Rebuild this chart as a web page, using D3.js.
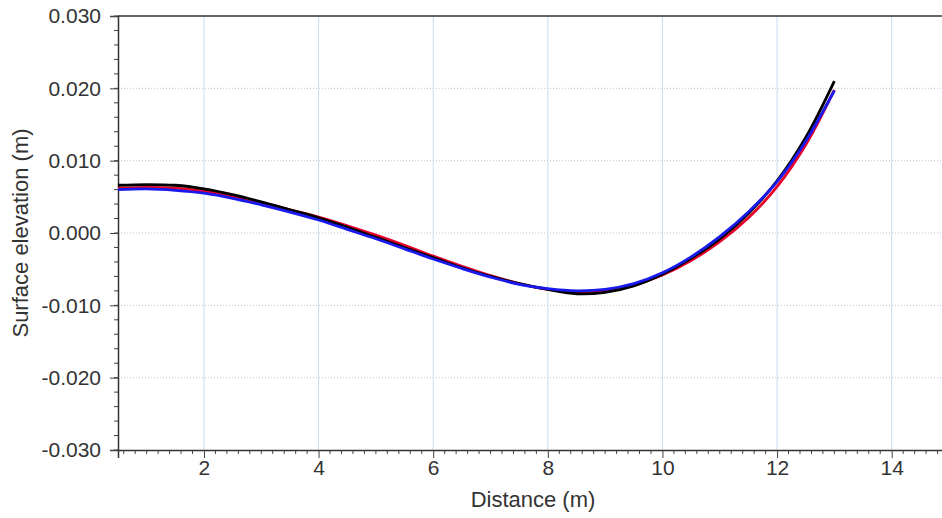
<!DOCTYPE html>
<html>
<head>
<meta charset="utf-8">
<script src="https://cdn.jsdelivr.net/npm/d3@7"></script>
<style>
  body { margin: 0; background: #fff; }
  svg { display: block; }
  .tick text { font-family: "Liberation Sans", Arial, sans-serif; font-size: 21px; fill: #333; }
  .title { font-family: "Liberation Sans", Arial, sans-serif; font-size: 22px; fill: #333; }
</style>
</head>
<body>
<svg id="chart" width="942" height="518"></svg>
<script>
// distance stations (m)
var distance = [0.5, 1, 1.5, 2, 2.5, 3, 3.5, 4, 4.5, 5, 5.5, 6, 6.5, 7, 7.5, 8, 8.5, 9, 9.5, 10, 10.5, 11, 11.5, 12, 12.5, 13];

// surface elevation (m), one array per run
var blackRun = [0.0066, 0.0067, 0.0066, 0.0061, 0.0053, 0.0043, 0.0032, 0.0021, 0.0008, -0.0006, -0.0020, -0.0034, -0.0048, -0.0060, -0.0070, -0.0078, -0.0084, -0.0082, -0.0073, -0.0057, -0.0035, -0.0008, 0.0027, 0.0072, 0.0132, 0.0210];
var redRun   = [0.0062, 0.0063, 0.0062, 0.0058, 0.0051, 0.0042, 0.0032, 0.0022, 0.0010, -0.0003, -0.0017, -0.0032, -0.0046, -0.0059, -0.0070, -0.0078, -0.0082, -0.0080, -0.0072, -0.0058, -0.0038, -0.0012, 0.0021, 0.0064, 0.0122, 0.0198];
var blueRun  = [0.0060, 0.0061, 0.0059, 0.0055, 0.0048, 0.0039, 0.0029, 0.0018, 0.0005, -0.0008, -0.0022, -0.0036, -0.0049, -0.0061, -0.0071, -0.0077, -0.0080, -0.0078, -0.0070, -0.0055, -0.0033, -0.0005, 0.0029, 0.0071, 0.0127, 0.0197];

var xTicks = [2, 4, 6, 8, 10, 12, 14];
var yTicks = [-0.03, -0.02, -0.01, 0, 0.01, 0.02, 0.03];

var series = [
  { name: "red", values: redRun, color: "#e8002a" },
  { name: "black", values: blackRun, color: "#000000" },
  { name: "blue", values: blueRun, color: "#1a1aee" }
];

var svg = d3.select("#chart");
var margin = { left: 118, top: 16, right: -7, bottom: 68 };
var W = 942, H = 518;

var x = d3.scaleLinear().domain([0.5, 15]).range([margin.left, W - margin.right]);
var y = d3.scaleLinear().domain([-0.03, 0.03]).range([H - margin.bottom, margin.top]);

// grid
var grid = svg.append("g");
grid.selectAll(".vg").data(xTicks).enter().append("line")
  .attr("x1", function(d) { return x(d); }).attr("x2", function(d) { return x(d); })
  .attr("y1", y(0.03)).attr("y2", y(-0.03))
  .attr("stroke", "#c9dcef").attr("stroke-width", 1);
grid.selectAll(".hg").data(yTicks.slice(1, -1)).enter().append("line")
  .attr("x1", x(0.5)).attr("x2", W)
  .attr("y1", function(d) { return y(d); }).attr("y2", function(d) { return y(d); })
  .attr("stroke", "#b7c8dc").attr("stroke-width", 1).attr("stroke-dasharray", "1,2");

// minor ticks
var minorX = d3.range(0.6, 15, 0.2).filter(function(v) { return Math.abs(v / 2 - Math.round(v / 2)) > 0.01; });
var minorY = d3.range(-0.03, 0.0301, 0.002);

svg.append("g").selectAll("line").data(minorX).enter().append("line")
  .attr("x1", function(d) { return x(d); }).attr("x2", function(d) { return x(d); })
  .attr("y1", y(-0.03)).attr("y2", y(-0.03) + 4)
  .attr("stroke", "#444");
svg.append("g").selectAll("line").data(minorY).enter().append("line")
  .attr("x1", x(0.5) - 4).attr("x2", x(0.5))
  .attr("y1", function(d) { return y(d); }).attr("y2", function(d) { return y(d); })
  .attr("stroke", "#444");

// axes
var xAxis = d3.axisBottom(x).tickValues(xTicks).tickSize(8).tickPadding(2).tickFormat(d3.format("d"));
var yAxis = d3.axisLeft(y).tickValues(yTicks).tickSize(8).tickPadding(9).tickFormat(d3.format(".3f"));

var gx = svg.append("g").attr("transform", "translate(0," + y(-0.03) + ")").call(xAxis);
var gy = svg.append("g").attr("transform", "translate(" + x(0.5) + ",0)").call(yAxis);
[gx, gy].forEach(function(g) {
  g.select(".domain").attr("stroke", "#333").attr("stroke-width", 1.5);
  g.selectAll(".tick line").attr("stroke", "#444");
});
gy.selectAll(".tick text").text(function(d) { return d3.format(".3f")(d).replace("\u2212", "-"); });

// top border
svg.append("line")
  .attr("x1", x(0.5)).attr("x2", W)
  .attr("y1", y(0.03)).attr("y2", y(0.03))
  .attr("stroke", "#333").attr("stroke-width", 1.5);

// lines
var line = d3.line()
  .x(function(d, i) { return x(distance[i]); })
  .y(function(d) { return y(d); })
  .curve(d3.curveCatmullRom);

svg.append("g").selectAll("path").data(series).enter().append("path")
  .attr("d", function(s) { return line(s.values); })
  .attr("fill", "none")
  .attr("stroke", function(s) { return s.color; })
  .attr("stroke-width", 2.8);

// axis titles
svg.append("text").attr("class", "title")
  .attr("x", 533).attr("y", 507)
  .attr("text-anchor", "middle")
  .text("Distance (m)");
svg.append("text").attr("class", "title")
  .attr("transform", "translate(28," + ((y(0.03) + y(-0.03)) / 2) + ") rotate(-90)")
  .attr("text-anchor", "middle")
  .text("Surface elevation (m)");
</script>
</body>
</html>
